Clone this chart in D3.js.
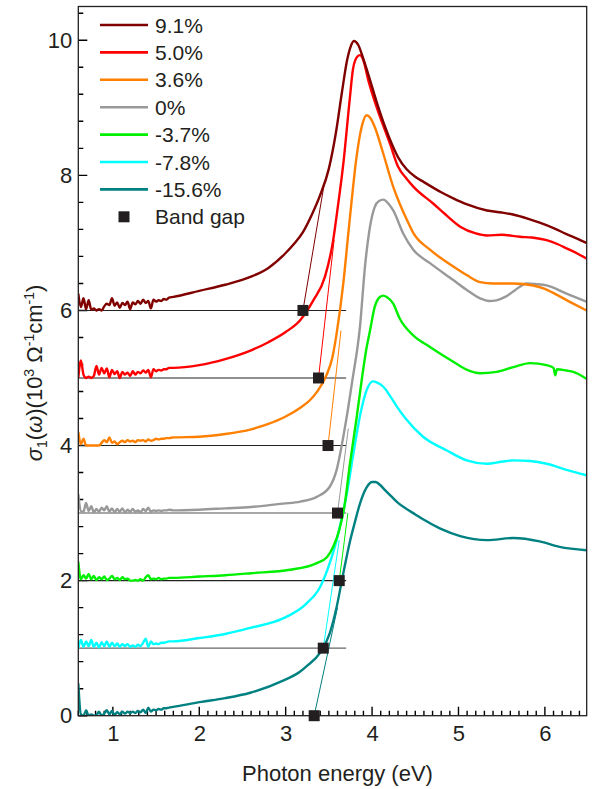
<!DOCTYPE html>
<html>
<head>
<meta charset="utf-8">
<script src="https://cdn.jsdelivr.net/npm/d3@7"></script>
<style>
  body { margin: 0; background: #fff; }
  text { font-family: "Liberation Sans", Arial, sans-serif; fill: #231f20; }
</style>
</head>
<body>
<svg id="chart" width="592" height="789"></svg>
<script>
// Strain series: legend labels, colours and vertical offsets (10^3 Ω^-1 cm^-1)
const strainLabels = ["9.1%", "5.0%", "3.6%", "0%", "-3.7%", "-7.8%", "-15.6%"];
const strainColors = ["#800000", "#ff0000", "#ff8000", "#999999", "#00f000", "#00ffff", "#008080"];
const baselines = [6, 5, 4, 3, 2, 1, 0];

// Noisy low-energy part of every spectrum (eV)
const lowEnergy = [0.60, 0.63, 0.66, 0.69, 0.72, 0.75, 0.78, 0.81, 0.84, 0.87, 0.90, 0.93,
  0.96, 0.99, 1.02, 1.05, 1.08, 1.11, 1.14, 1.17, 1.20, 1.23, 1.26, 1.29,
  1.32, 1.35, 1.38, 1.41, 1.44, 1.47, 1.50, 1.53, 1.56, 1.59, 1.62, 1.65];

const low91 = [6.25, 6.05, 6.18, 6.02, 6.15, 6.01, 6.03, 6.00, 6.02, 6.00, 6.06, 6.10,
  6.08, 6.18, 6.07, 6.12, 6.04, 6.11, 6.08, 6.13, 6.02, 6.12, 6.09, 6.14,
  6.10, 6.16, 6.11, 6.14, 6.03, 6.16, 6.13, 6.15, 6.14, 6.17, 6.16, 6.19];
const low50 = [5.00, 5.26, 5.05, 5.00, 5.02, 5.00, 5.03, 5.18, 5.05, 5.15, 5.07, 5.14,
  5.01, 5.12, 5.06, 5.10, 5.00, 5.09, 5.05, 5.08, 5.03, 5.10, 5.05, 5.09,
  5.07, 5.11, 5.08, 5.12, 5.01, 5.13, 5.10, 5.12, 5.11, 5.13, 5.13, 5.15];
const low36 = [4.20, 4.02, 4.10, 4.00, 4.00, 4.00, 4.00, 4.00, 4.00, 4.04, 4.08, 4.05,
  4.12, 4.04, 4.06, 4.02, 4.05, 4.07, 4.05, 4.08, 4.06, 4.07, 4.05, 4.08,
  4.07, 4.08, 4.06, 4.09, 4.07, 4.08, 4.10, 4.09, 4.10, 4.10, 4.11, 4.11];
const low00 = [3.28, 3.03, 3.02, 3.15, 3.03, 3.10, 3.01, 3.06, 3.02, 3.08, 3.04, 3.10,
  3.02, 3.07, 3.01, 3.06, 3.02, 3.07, 3.01, 3.05, 3.02, 3.06, 3.02, 3.04,
  3.01, 3.06, 3.03, 3.08, 3.02, 3.04, 3.03, 3.04, 3.03, 3.04, 3.04, 3.05];
const lowM37 = [2.28, 2.02, 2.08, 2.03, 2.10, 2.02, 2.07, 2.01, 2.05, 2.02, 2.06, 2.01,
  2.03, 2.07, 2.02, 2.04, 2.01, 2.05, 2.02, 2.03, 2.00, 2.00, 2.01, 2.00,
  2.02, 2.00, 2.05, 2.08, 2.02, 2.03, 2.02, 2.04, 2.02, 2.03, 2.03, 2.04];
const lowM78 = [1.00, 1.12, 1.02, 1.10, 1.03, 1.12, 1.02, 1.08, 1.01, 1.09, 1.03, 1.10,
  1.02, 1.08, 1.03, 1.07, 1.02, 1.06, 1.03, 1.06, 1.02, 1.04, 1.02, 1.05,
  1.03, 1.08, 1.14, 1.02, 1.10, 1.06, 1.07, 1.06, 1.08, 1.08, 1.09, 1.10];
const lowM156 = [0.48, 0.02, 0.00, 0.08, 0.00, 0.02, 0.00, 0.01, 0.06, 0.00, 0.03, 0.08,
  0.02, 0.07, 0.01, 0.05, 0.02, 0.06, 0.03, 0.06, 0.04, 0.06, 0.04, 0.07,
  0.05, 0.09, 0.04, 0.12, 0.06, 0.09, 0.08, 0.10, 0.09, 0.11, 0.11, 0.12];

// Smooth part of every spectrum: [photon energy (eV), offset σ1]
const high91 = [[1.7, 6.20], [2.0, 6.29], [2.3, 6.38], [2.6, 6.50], [2.8, 6.63], [3.0, 6.85],
  [3.1, 6.99], [3.2, 7.16], [3.3, 7.41], [3.4, 7.71], [3.5, 8.10], [3.58, 8.62],
  [3.65, 9.22], [3.71, 9.70], [3.75, 9.90], [3.79, 9.99], [3.84, 9.93], [3.90, 9.72],
  [3.96, 9.48], [4.05, 9.10], [4.15, 8.72], [4.23, 8.46], [4.30, 8.27], [4.40, 8.09],
  [4.50, 7.98], [4.60, 7.90], [4.80, 7.75], [4.94, 7.66], [5.10, 7.57], [5.33, 7.48],
  [5.50, 7.45], [5.63, 7.42], [5.80, 7.36], [5.94, 7.30], [6.10, 7.22], [6.25, 7.13],
  [6.38, 7.06], [6.48, 7.00]];
const high50 = [[1.7, 5.15], [2.0, 5.19], [2.3, 5.28], [2.6, 5.41], [2.8, 5.53], [3.0, 5.68],
  [3.17, 5.86], [3.32, 6.15], [3.455, 6.50], [3.55, 7.04], [3.60, 7.50], [3.667, 8.17],
  [3.744, 9.16], [3.78, 9.58], [3.83, 9.76], [3.86, 9.78], [3.90, 9.70], [3.956, 9.41],
  [4.053, 9.01], [4.207, 8.47], [4.30, 8.13], [4.40, 7.95], [4.48, 7.83], [4.71, 7.58],
  [4.85, 7.42], [5.02, 7.24], [5.20, 7.14], [5.33, 7.11], [5.50, 7.12], [5.71, 7.09],
  [5.85, 7.08], [6.02, 7.04], [6.15, 6.98], [6.25, 6.92], [6.38, 6.84], [6.48, 6.77]];
const high36 = [[1.7, 4.12], [2.0, 4.13], [2.3, 4.17], [2.6, 4.24], [2.8, 4.32], [3.0, 4.43],
  [3.17, 4.56], [3.28, 4.67], [3.36, 4.79], [3.475, 5.05], [3.54, 5.30], [3.59, 5.66],
  [3.667, 6.40], [3.725, 7.14], [3.764, 7.63], [3.82, 8.27], [3.88, 8.72], [3.937, 8.89],
  [3.98, 8.85], [4.03, 8.72], [4.13, 8.32], [4.245, 7.83], [4.32, 7.58], [4.40, 7.35],
  [4.48, 7.14], [4.67, 6.90], [4.94, 6.65], [5.10, 6.52], [5.25, 6.42], [5.40, 6.40],
  [5.63, 6.40], [5.865, 6.37], [6.00, 6.32], [6.14, 6.23], [6.30, 6.12], [6.48, 6.00]];
const high00 = [[1.7, 3.04], [2.0, 3.05], [2.3, 3.07], [2.6, 3.09], [2.97, 3.14], [3.17, 3.17],
  [3.36, 3.24], [3.51, 3.39], [3.59, 3.64], [3.667, 4.13], [3.725, 4.57], [3.77, 4.95],
  [3.86, 5.76], [3.918, 6.65], [3.976, 7.24], [4.03, 7.53], [4.08, 7.62], [4.13, 7.64],
  [4.19, 7.58], [4.245, 7.48], [4.36, 7.14], [4.477, 6.90], [4.67, 6.70], [4.94, 6.45],
  [5.10, 6.30], [5.25, 6.18], [5.35, 6.14], [5.44, 6.15], [5.54, 6.20], [5.634, 6.28],
  [5.79, 6.40], [5.90, 6.39], [6.02, 6.37], [6.25, 6.25], [6.48, 6.13]];
const highM37 = [[1.7, 2.04], [2.0, 2.06], [2.3, 2.08], [2.6, 2.11], [3.05, 2.16], [3.36, 2.26],
  [3.48, 2.35], [3.55, 2.50], [3.62, 2.75], [3.68, 3.10], [3.744, 3.73], [3.82, 4.40],
  [3.88, 4.97], [3.93, 5.40], [3.976, 5.70], [4.03, 6.05], [4.09, 6.20], [4.13, 6.22],
  [4.17, 6.20], [4.245, 6.10], [4.32, 5.88], [4.477, 5.63], [4.67, 5.46], [4.94, 5.24],
  [5.10, 5.12], [5.25, 5.07], [5.44, 5.09], [5.634, 5.16], [5.83, 5.22], [6.02, 5.19],
  [6.10, 5.15], [6.12, 5.04], [6.14, 5.13], [6.25, 5.11], [6.33, 5.09], [6.48, 4.99]];
const highM78 = [[1.7, 1.10], [2.0, 1.15], [2.3, 1.21], [2.59, 1.30], [2.97, 1.44], [3.24, 1.66],
  [3.40, 1.91], [3.51, 2.26], [3.58, 2.55], [3.64, 2.87], [3.71, 3.30], [3.78, 3.85],
  [3.87, 4.50], [3.937, 4.82], [4.01, 4.95], [4.06, 4.93], [4.13, 4.87], [4.20, 4.75],
  [4.285, 4.58], [4.40, 4.38], [4.59, 4.13], [4.86, 3.93], [5.095, 3.78], [5.33, 3.73],
  [5.50, 3.76], [5.634, 3.78], [5.83, 3.77], [6.02, 3.73], [6.25, 3.64], [6.48, 3.56]];
const highM156 = [[1.7, 0.13], [2.0, 0.20], [2.3, 0.26], [2.59, 0.34], [2.97, 0.52], [3.165, 0.65],
  [3.24, 0.73], [3.397, 0.93], [3.51, 1.22], [3.59, 1.61], [3.667, 2.11], [3.744, 2.58],
  [3.80, 2.86], [3.86, 3.14], [3.937, 3.38], [4.00, 3.46], [4.04, 3.46], [4.09, 3.42],
  [4.15, 3.34], [4.22, 3.25], [4.30, 3.15], [4.40, 3.06], [4.50, 2.98], [4.60, 2.90],
  [4.79, 2.77], [5.02, 2.66], [5.33, 2.60], [5.634, 2.63], [5.94, 2.58], [6.17, 2.50],
  [6.48, 2.45]];

// Band gap from the linear extrapolation of each absorption edge
const bandGap = [3.20, 3.38, 3.49, 3.60, 3.62, 3.435, 3.33];
const tangentTop = [[3.443, 7.85], [3.56, 7.04], [3.64, 5.70], [3.725, 4.25], [3.72, 3.00], [3.62, 2.60], [3.60, 1.60]];
const baselineEnd = 3.7;

const xMajorTicks = [1, 2, 3, 4, 5, 6];
const yMajorTicks = [0, 2, 4, 6, 8, 10];
const xMinorTicks = [0.6, 0.7, 0.8, 0.9, 1.0, 1.1, 1.2, 1.3, 1.4, 1.5, 1.6, 1.7, 1.8, 1.9, 2.0,
  2.1, 2.2, 2.3, 2.4, 2.5, 2.6, 2.7, 2.8, 2.9, 3.0, 3.1, 3.2, 3.3, 3.4, 3.5, 3.6, 3.7, 3.8, 3.9, 4.0,
  4.1, 4.2, 4.3, 4.4, 4.5, 4.6, 4.7, 4.8, 4.9, 5.0, 5.1, 5.2, 5.3, 5.4, 5.5, 5.6, 5.7, 5.8, 5.9, 6.0,
  6.1, 6.2, 6.3, 6.4];
const yMinorTicks = [0, 0.4, 0.8, 1.2, 1.6, 2.0, 2.4, 2.8, 3.2, 3.6, 4.0, 4.4, 4.8, 5.2, 5.6, 6.0,
  6.4, 6.8, 7.2, 7.6, 8.0, 8.4, 8.8, 9.2, 9.6, 10.0, 10.4];

const lowSets = [low91, low50, low36, low00, lowM37, lowM78, lowM156];
const highSets = [high91, high50, high36, high00, highM37, highM78, highM156];

const svg = d3.select("#chart");
const plotLeft = 78.3, plotRight = 586.7, plotTop = 6.5, plotBottom = 715.7;
const x = d3.scaleLinear().domain([0.6, 6.484]).range([plotLeft, plotRight]);
const y = d3.scaleLinear().domain([0, 10.5]).range([plotBottom, plotTop]);
const axisColor = "#231f20";

svg.append("defs").append("clipPath").attr("id", "plotClip")
  .append("rect").attr("x", plotLeft).attr("y", plotTop)
  .attr("width", plotRight - plotLeft).attr("height", plotBottom - plotTop);

// Inward ticks: short every 0.1 eV / 0.4 units, long at the labelled values
const tickPath = d3.path();
xMinorTicks.forEach(v => {
  const major = xMajorTicks.some(t => Math.abs(t - v) < 1e-6);
  tickPath.moveTo(x(v), plotBottom);
  tickPath.lineTo(x(v), plotBottom - (major ? 9 : 5));
});
yMinorTicks.forEach(v => {
  const major = yMajorTicks.some(t => Math.abs(t - v) < 1e-6);
  tickPath.moveTo(plotLeft, y(v));
  tickPath.lineTo(plotLeft + (major ? 9 : 5), y(v));
});
svg.append("path").attr("d", tickPath.toString())
  .attr("fill", "none").attr("stroke", "#000").attr("stroke-width", 1.4);

// Baselines for the gap extrapolation
const baseG = svg.append("g");
baselines.forEach((b) => {
  if (b === 0) return;
  baseG.append("line")
    .attr("x1", x(0.6)).attr("x2", x(baselineEnd))
    .attr("y1", y(b)).attr("y2", y(b))
    .attr("stroke", b === 3 ? "#8a8a8a" : (b === 1 ? "#666" : "#222"))
    .attr("stroke-width", b === 3 ? 1.5 : 1.1);
});

// Spectra
const spectrumLine = d3.line().x(d => x(d[0])).y(d => y(d[1])).curve(d3.curveMonotoneX);
const curveG = svg.append("g").attr("clip-path", "url(#plotClip)");
for (let i = strainLabels.length - 1; i >= 0; i--) {
  const pts = lowEnergy.map((e, k) => [e, lowSets[i][k]]).concat(highSets[i]);
  curveG.append("path").datum(pts)
    .attr("d", spectrumLine).attr("fill", "none")
    .attr("stroke", strainColors[i]).attr("stroke-width", 2.4)
    .attr("stroke-linejoin", "round");
}

// Edge tangents and band-gap markers
const tanG = svg.append("g");
bandGap.forEach((g, i) => {
  tanG.append("line")
    .attr("x1", x(g)).attr("y1", y(baselines[i]))
    .attr("x2", x(tangentTop[i][0])).attr("y2", y(tangentTop[i][1]))
    .attr("stroke", strainColors[i]).attr("stroke-width", 1);
});
const sq = 11;
tanG.selectAll("rect.gap").data(bandGap).join("rect").attr("class", "gap")
  .attr("x", d => x(d) - sq / 2).attr("y", (d, i) => y(baselines[i]) - sq / 2)
  .attr("width", sq).attr("height", sq).attr("fill", "#231f20");

// Frame
svg.append("rect").attr("x", plotLeft).attr("y", plotTop)
  .attr("width", plotRight - plotLeft).attr("height", plotBottom - plotTop)
  .attr("fill", "none").attr("stroke", axisColor).attr("stroke-width", 1.3);

// Tick labels via the scale's axis generators
function styleAxis(g) {
  g.select(".domain").remove();
  g.selectAll(".tick line").remove();
  g.selectAll("text").attr("font-size", 22).attr("fill", axisColor)
    .attr("font-family", "'Liberation Sans', Arial, sans-serif");
}
svg.append("g").attr("transform", `translate(0,${plotBottom})`)
  .call(d3.axisBottom(x).tickValues(xMajorTicks).tickSize(0).tickPadding(10).tickFormat(d3.format("d")))
  .call(styleAxis);
svg.append("g").attr("transform", `translate(${plotLeft},0)`)
  .call(d3.axisLeft(y).tickValues(yMajorTicks).tickSize(0).tickPadding(6).tickFormat(d3.format("d")))
  .call(styleAxis);

// Axis titles
svg.append("text").attr("x", (plotLeft + plotRight) / 2 + 5).attr("y", 781)
  .attr("text-anchor", "middle").attr("font-size", 22).text("Photon energy (eV)");

const yt = svg.append("text").attr("transform", "translate(42,373) rotate(-90)")
  .attr("text-anchor", "middle").attr("font-size", 22);
yt.append("tspan").attr("font-style", "italic").text("σ");
yt.append("tspan").attr("font-size", 14).attr("dy", 5).text("1");
yt.append("tspan").attr("dy", -5).text("(");
yt.append("tspan").attr("font-style", "italic").text("ω");
yt.append("tspan").text(")(10");
yt.append("tspan").attr("font-size", 14).attr("dy", -8).text("3");
yt.append("tspan").attr("dy", 8).text(" Ω");
yt.append("tspan").attr("font-size", 14).attr("dy", -8).text("-1");
yt.append("tspan").attr("dy", 8).text("cm");
yt.append("tspan").attr("font-size", 14).attr("dy", -8).text("-1");
yt.append("tspan").attr("dy", 8).text(")");

// Legend
const legG = svg.append("g");
const legY0 = 25, legStep = 27.4;
strainLabels.forEach((lab, i) => {
  const yy = legY0 + i * legStep;
  legG.append("line").attr("x1", 100).attr("x2", 148).attr("y1", yy).attr("y2", yy)
    .attr("stroke", strainColors[i]).attr("stroke-width", 2.6);
  legG.append("text").attr("x", 155).attr("y", yy).attr("dy", "0.36em")
    .attr("font-size", 21).text(lab);
});
const gy = legY0 + strainLabels.length * legStep;
legG.append("rect").attr("x", 124 - sq / 2).attr("y", gy - sq / 2)
  .attr("width", sq).attr("height", sq).attr("fill", "#231f20");
legG.append("text").attr("x", 155).attr("y", gy).attr("dy", "0.36em")
  .attr("font-size", 21).text("Band gap");
</script>
</body>
</html>
